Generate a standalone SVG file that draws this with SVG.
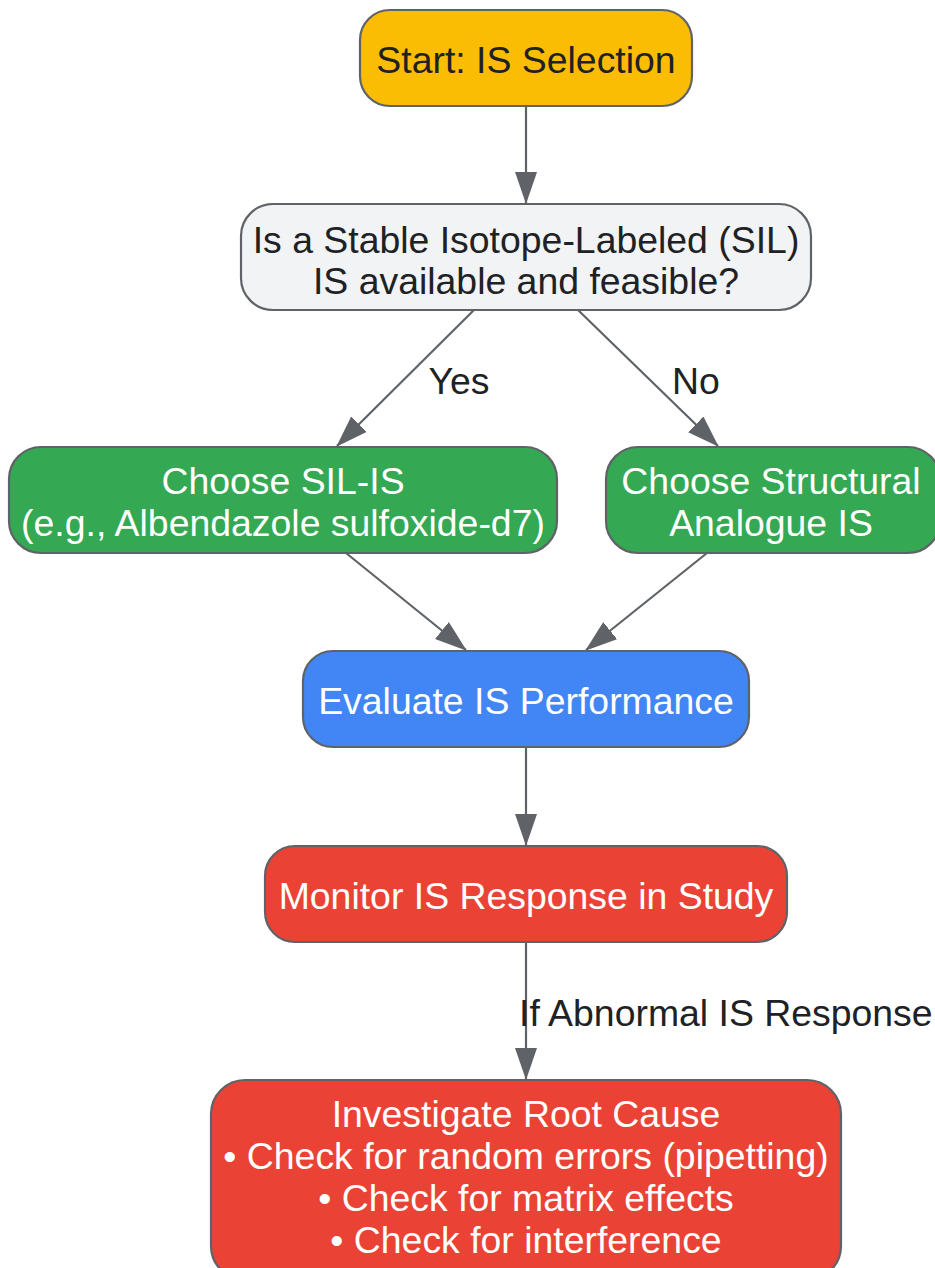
<svg xmlns="http://www.w3.org/2000/svg" width="935" height="1268" viewBox="0 0 935 1268">
<style>
.n{stroke:#5f6368;stroke-width:2.2}
.t{font-family:"Liberation Sans",Arial,sans-serif;font-size:37.4px;text-anchor:middle}
.d{fill:#202124}
.w{fill:#ffffff}
.e{stroke:#5f6368;stroke-width:2.2;fill:none;marker-end:url(#ah)}
</style>
<defs>
<marker id="ah" viewBox="0 0 32 22" refX="31" refY="11" markerWidth="32" markerHeight="22" markerUnits="userSpaceOnUse" orient="auto">
<path d="M0,0 L32,11 L0,22 Z" fill="#5f6368"/>
</marker>
</defs>
<rect width="935" height="1268" fill="#ffffff"/>
<g id="edges">
<path class="e" d="M526,106 L526,203"/>
<path class="e" d="M474,310 L337,446"/>
<path class="e" d="M578,310 L718,446"/>
<path class="e" d="M346,553 L466,650"/>
<path class="e" d="M707,553 L586,650"/>
<path class="e" d="M526,747 L526,845"/>
<path class="e" d="M526,942 L526,1079"/>
<text class="t d" x="459" y="394">Yes</text>
<text class="t d" x="696" y="394">No</text>
<text class="t d" x="519" y="1026" style="text-anchor:start">If Abnormal IS Response</text>
</g>
<g id="start">
<rect class="n" x="360" y="10" width="332" height="96" rx="30" fill="#fbbc04"/>
<text class="t d" x="526" y="73">Start: IS Selection</text>
</g>
<g id="decision">
<rect class="n" x="241" y="204" width="570" height="106" rx="32" fill="#f1f3f4"/>
<text class="t d" x="526" y="253">Is a Stable Isotope-Labeled (SIL)</text>
<text class="t d" x="526" y="294">IS available and feasible?</text>
</g>
<g id="sil">
<rect class="n" x="9" y="447" width="548" height="106" rx="32" fill="#34a853"/>
<text class="t w" x="283" y="494">Choose SIL-IS</text>
<text class="t w" x="283" y="536">(e.g., Albendazole sulfoxide-d7)</text>
</g>
<g id="analogue">
<rect class="n" x="606" y="447" width="334" height="106" rx="32" fill="#34a853"/>
<text class="t w" x="771" y="494">Choose Structural</text>
<text class="t w" x="771" y="536">Analogue IS</text>
</g>
<g id="evaluate">
<rect class="n" x="303" y="651" width="446" height="96" rx="30" fill="#4285f4"/>
<text class="t w" x="526" y="714">Evaluate IS Performance</text>
</g>
<g id="monitor">
<rect class="n" x="265" y="846" width="522" height="96" rx="30" fill="#ea4335"/>
<text class="t w" x="526" y="909">Monitor IS Response in Study</text>
</g>
<g id="investigate">
<rect class="n" x="211" y="1080" width="630" height="200" rx="34" fill="#ea4335"/>
<text class="t w" x="526" y="1127">Investigate Root Cause</text>
<text class="t w" x="526" y="1169">• Check for random errors (pipetting)</text>
<text class="t w" x="526" y="1211">• Check for matrix effects</text>
<text class="t w" x="526" y="1253">• Check for interference</text>
</g>
</svg>
